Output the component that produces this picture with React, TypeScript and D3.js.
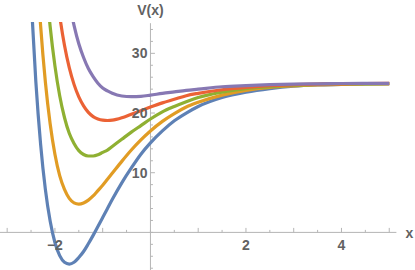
import React, { useEffect, useRef } from "react";
import * as d3 from "d3";

// sample positions along x
const xs = [
  -2.6, -2.5, -2.4, -2.3, -2.2, -2.1, -2.0, -1.9, -1.8, -1.7, -1.6, -1.5, -1.4,
  -1.3, -1.2, -1.1, -1.0, -0.9, -0.8, -0.6, -0.4, -0.2, 0, 0.25, 0.5, 0.75, 1,
  1.5, 2, 2.5, 3, 3.5, 4, 4.5, 5,
];

// V(x) (null = far above the plot)
const blue = [
  58.2, 39.4, 25.3, 14.8, 7.2, 1.9, -1.7, -3.9, -5.0, -5.3, -5.0, -4.2, -3.2,
  -1.9, -0.5, 1.0, 2.5, 4.0, 5.5, 8.3, 10.8, 13.1, 15.0, 17.0, 18.7, 20.0,
  21.1, 22.6, 23.5, 24.1, 24.5, 24.7, 24.8, 24.9, 24.9,
];
const orange = [
  null, 63.8, 47.3, 34.7, 25.2, 18.2, 13.1, 9.5, 7.2, 5.7, 4.95, 4.75, 4.94,
  5.4, 6.1, 7.0, 7.9, 8.9, 9.9, 11.9, 13.8, 15.5, 17.0, 18.6, 19.9, 21.0,
  21.8, 23.0, 23.8, 24.3, 24.55, 24.7, 24.8, 24.9, 24.9,
];
const green = [
  null, null, null, 54.7, 43.3, 34.5, 27.9, 22.9, 19.25, 16.6, 14.9, 13.7,
  13.05, 12.8, 12.8, 13.0, 13.4, 13.8, 14.4, 15.6, 16.8, 17.9, 19.0, 20.2,
  21.1, 21.9, 22.6, 23.5, 24.1, 24.4, 24.65, 24.8, 24.9, 24.9, 24.95,
];
const red = [
  null, null, null, null, null, null, 42.7, 36.3, 31.35, 27.6, 24.8, 22.7,
  21.2, 20.1, 19.4, 19.0, 18.8, 18.75, 18.8, 19.2, 19.8, 20.4, 21.0, 21.7,
  22.3, 22.9, 23.3, 23.9, 24.3, 24.6, 24.75, 24.85, 24.9, 24.95, 24.97,
];
const purple = [
  null, null, null, null, null, null, null, null, null, 38.5, 34.7, 31.6,
  29.3, 27.45, 26.1, 25.0, 24.2, 23.7, 23.3, 22.85, 22.75, 22.8, 23.0, 23.3,
  23.55, 23.8, 24.0, 24.4, 24.6, 24.75, 24.85, 24.9, 24.95, 24.97, 24.98,
];

const series = [blue, orange, green, red, purple];
const colors = ["#5e81b5", "#e19c24", "#8fb032", "#eb6235", "#8778b3"];

const xMajor = [-2, 2, 4];
const yMajor = [10, 20, 30];

export default function App() {
  const ref = useRef<SVGSVGElement>(null);

  useEffect(() => {
    const svg = d3.select(ref.current);
    svg.selectAll("*").remove();

    const x = d3.scaleLinear().domain([-3.15, 5.15]).range([0, 396.4]);
    const y = d3.scaleLinear().domain([-6.3, 35.2]).range([270, 22.3]);

    const axisColor = "#b5b5b5";
    const textColor = "#626262";

    // curves are cut at the top of the plot
    svg
      .append("clipPath")
      .attr("id", "plotClip")
      .append("rect")
      .attr("x", 0)
      .attr("y", 22)
      .attr("width", 415)
      .attr("height", 250);

    const line = d3
      .line<number | null>()
      .defined((d) => d != null)
      .x((_, i) => x(xs[i]))
      .y((d) => y(d as number))
      .curve(d3.curveMonotoneX);

    // axes
    const ax = svg.append("g");
    ax.append("line")
      .attr("x1", x(-3.15)).attr("x2", x(5.15))
      .attr("y1", y(0)).attr("y2", y(0))
      .attr("stroke", axisColor);
    ax.append("line")
      .attr("x1", x(0)).attr("x2", x(0))
      .attr("y1", y(35.05)).attr("y2", y(-6.3))
      .attr("stroke", axisColor);

    const xTicks = d3.range(-3, 5.01, 0.5);
    ax.selectAll("line.xt")
      .data(xTicks)
      .enter()
      .append("line")
      .attr("x1", (d) => x(d)).attr("x2", (d) => x(d))
      .attr("y1", y(0))
      .attr("y2", (d) => y(0) - (Number.isInteger(d) && d !== 0 ? 4.5 : 2.5))
      .attr("stroke", axisColor);

    const yTicks = d3.range(-6, 35, 2);
    ax.selectAll("line.yt")
      .data(yTicks)
      .enter()
      .append("line")
      .attr("y1", (d) => y(d)).attr("y2", (d) => y(d))
      .attr("x1", x(0))
      .attr("x2", (d) => x(0) + (d % 10 === 0 && d !== 0 ? 4.5 : 2.5))
      .attr("stroke", axisColor);

    svg
      .append("g")
      .attr("clip-path", "url(#plotClip)")
      .selectAll("path")
      .data(series)
      .enter()
      .append("path")
      .attr("d", (d) => line(d))
      .attr("fill", "none")
      .attr("stroke", (_, i) => colors[i])
      .attr("stroke-width", 3.2);

    const font = "'Liberation Sans', Arial, sans-serif";
    const labels = svg
      .append("g")
      .attr("font-family", font)
      .attr("font-size", 14)
      .attr("font-weight", "bold")
      .attr("fill", textColor);

    labels
      .selectAll("text.xl")
      .data(xMajor)
      .enter()
      .append("text")
      .attr("x", (d) => x(d))
      .attr("y", y(0) + 18)
      .attr("text-anchor", "middle")
      .text((d) => (d < 0 ? "\u2212" + Math.abs(d) : String(d)));

    labels
      .selectAll("text.yl")
      .data(yMajor)
      .enter()
      .append("text")
      .attr("x", x(0) - 3)
      .attr("y", (d) => y(d) + 5)
      .attr("text-anchor", "end")
      .text((d) => String(d));

    labels
      .append("text")
      .attr("x", x(0))
      .attr("y", 14.5)
      .attr("text-anchor", "middle")
      .text("V(x)");

    labels
      .append("text")
      .attr("x", 409.5)
      .attr("y", 237.5)
      .attr("text-anchor", "middle")
      .text("x");
  }, []);

  return (
    <svg
      ref={ref}
      width={415}
      height={270}
      style={{ position: "absolute", left: 0, top: 0 }}
    />
  );
}
